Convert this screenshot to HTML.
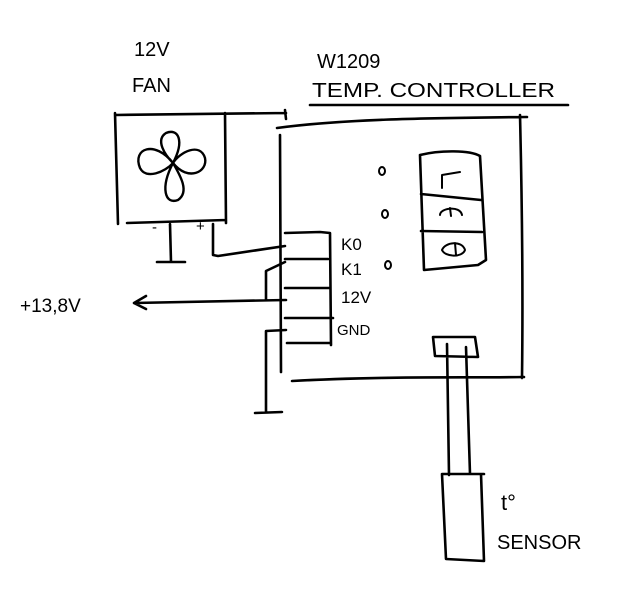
<!DOCTYPE html>
<html><head><meta charset="utf-8"><style>html,body{margin:0;padding:0;background:#fff}svg{display:block}</style></head>
<body>
<svg width="643" height="600" viewBox="0 0 643 600" xmlns="http://www.w3.org/2000/svg">
<rect width="643" height="600" fill="#fff"/>
<g fill="none" stroke="#000" stroke-width="2.6" stroke-linecap="round" stroke-linejoin="round">
<path d="M115 113 L118 224 M115 115 L286 113 M285 110 L286 119 M225 113 L226 223 M127 223 L226 220"/>
<path d="M173 163 C155 140 132 148 140 168 C146 180 165 172 173 163 C188 182 208 172 205 158 C200 142 180 152 173 163 C160 188 165 205 178 200 C190 192 180 175 173 163 C185 140 178 128 166 133 C155 140 165 155 173 163" stroke-width="2.4"/>
<path d="M170 224 L171 262 M157 262 L185 262 M213 224 L213 255 L218 256 L285 246"/>
<path d="M277 128 C350 118 450 118 527 117 M280 135 L281 372 M292 381 C380 376 460 378 524 377 M520 115 C522 200 523 300 522 378"/>
<path d="M285 233 L320 232 L330 233 L331 345 M285 259 L328 259 M285 288 L330 288 M285 318 L333 318 M287 343 L331 343" />
<path d="M285 262 L266 271 L266 300 M286 300 L134 303 M146 296 L134 303 L146 309"/>
<path d="M286 330 L266 331 L266 412 M255 413 L282 412"/>
<ellipse cx="382" cy="171" rx="3" ry="4" stroke-width="2"/>
<ellipse cx="385" cy="214" rx="3" ry="4" stroke-width="2"/>
<ellipse cx="388" cy="265" rx="3" ry="4" stroke-width="2"/>
<path d="M420 155 C440 150 470 150 480 156 L486 260 L478 265 L424 270 L420 155 M421 194 L481 200 M421 231 L482 232"/>
<path d="M442 188 L442 175 L460 172 M440 215 C440 208 460 205 462 215 M450 208 L451 216 M442 250 C445 242 462 240 465 250 C462 258 445 257 442 250 M455 243 L456 255" stroke-width="2"/>
<path d="M433 337 L475 337 L478 357 L435 356 Z M447 344 L449 475 M466 347 L470 474 M442 474 L484 474 M442 474 L446 559 L484 561 L481 474"/>
<path d="M310 105 L568 105"/>
</g>
<g font-family="Liberation Sans, sans-serif" font-size="20" fill="#000">
<text x="134" y="56">12V</text>
<text x="132" y="92">FAN</text>
<text x="317" y="68">W1209</text>
<text x="312" y="97" textLength="243" lengthAdjust="spacingAndGlyphs">TEMP. CONTROLLER</text>
<text x="20" y="312" font-size="19">+13,8V</text>
<text x="501" y="510" font-size="22">t°</text>
<text x="497" y="549">SENSOR</text>
<text x="341" y="250" font-size="17">K0</text>
<text x="341" y="275" font-size="17">K1</text>
<text x="341" y="303" font-size="17">12V</text>
<text x="337" y="335" font-size="15">GND</text>
<text x="152" y="232" font-size="15">-</text>
<text x="196" y="231" font-size="15">+</text>
</g>
</svg>
</body></html>
